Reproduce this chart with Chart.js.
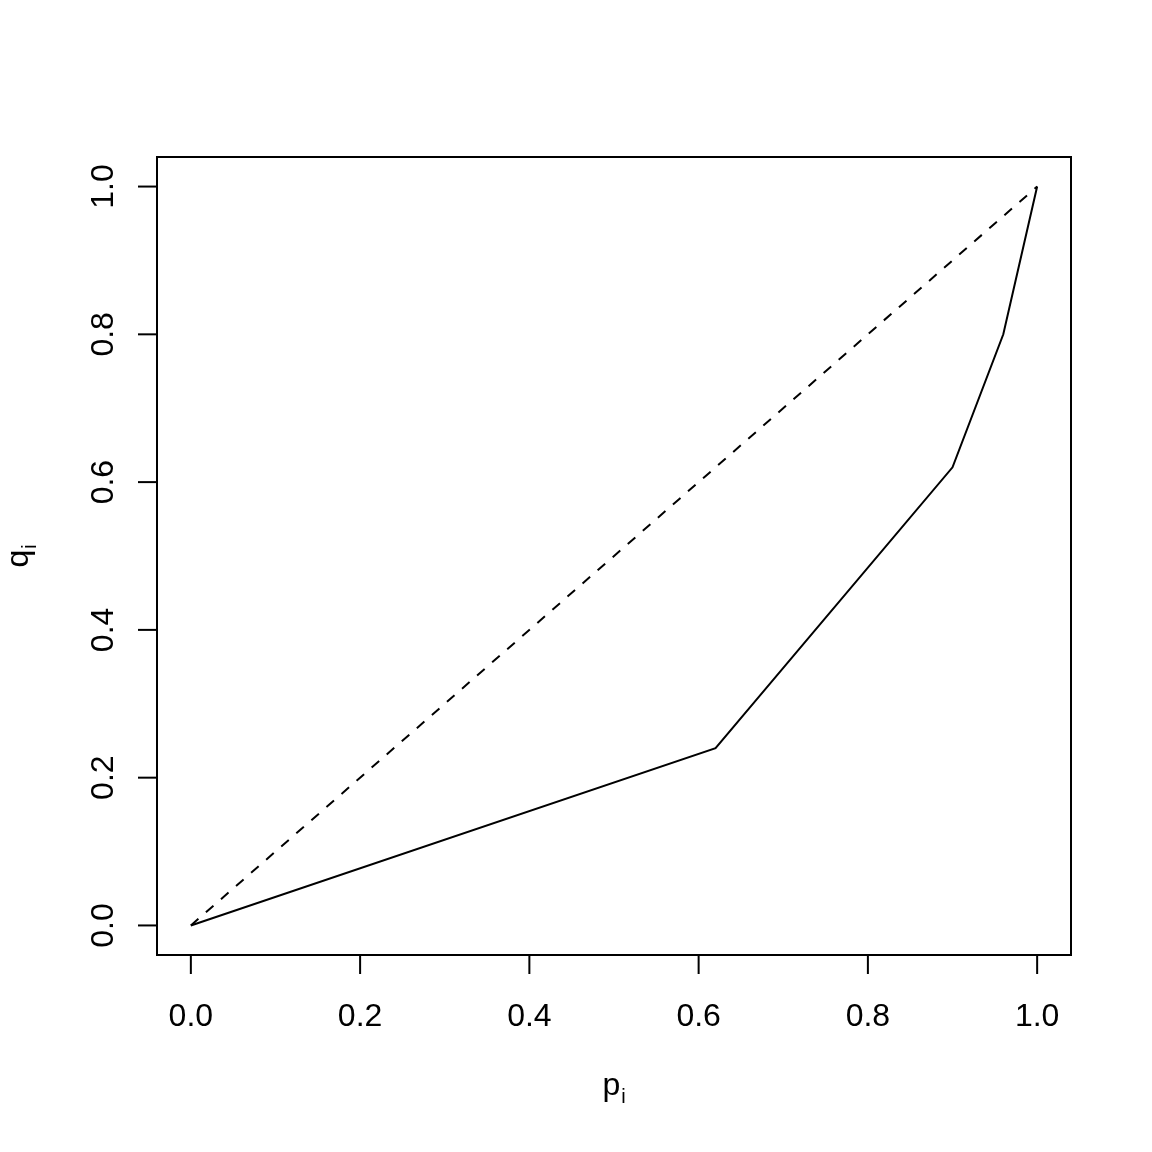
<!DOCTYPE html>
<html lang="en">
<head>
  <meta charset="UTF-8">
  <title>Lorenz curve</title>
  <script src="https://cdn.jsdelivr.net/npm/chart.js"></script>
  <style>
    body { margin: 0; background: #ffffff; }
    #wrap { width: 1152px; height: 1152px; }
  </style>
</head>
<body>
  <div id="wrap"><canvas id="myChart" width="1152" height="1152"></canvas></div>

  <script>
    // data
    const pValues = [0, 0.62, 0.90, 0.96, 1.0];
    const qValues = [0, 0.24, 0.62, 0.80, 1.0];
    const diagX = [0, 1];
    const diagY = [0, 1];
    const xTickValues = [0, 0.2, 0.4, 0.6, 0.8, 1.0];
    const yTickValues = [0, 0.2, 0.4, 0.6, 0.8, 1.0];
    const xTickLabels = ['0.0', '0.2', '0.4', '0.6', '0.8', '1.0'];
    const yTickLabels = ['0.0', '0.2', '0.4', '0.6', '0.8', '1.0'];

    const FONT = '"Liberation Sans", Arial, sans-serif';

    const toPoints = (xs, ys) => xs.map((x, i) => ({ x: x, y: ys[i] }));

    // draws the R style frame, ticks, labels and axis titles
    const rAxes = {
      id: 'rAxes',
      afterDraw(chart) {
        const ctx = chart.ctx;
        const a = chart.chartArea;
        const xs = chart.scales.x;
        const ys = chart.scales.y;
        ctx.save();
        ctx.strokeStyle = '#000';
        ctx.fillStyle = '#000';
        ctx.lineWidth = 2;
        ctx.setLineDash([]);
        ctx.strokeRect(a.left, a.top, a.right - a.left, a.bottom - a.top);

        ctx.font = '32px ' + FONT;
        ctx.textAlign = 'center';
        ctx.textBaseline = 'alphabetic';

        // x axis
        xTickValues.forEach((v, i) => {
          const px = xs.getPixelForValue(v);
          ctx.beginPath();
          ctx.moveTo(px, a.bottom);
          ctx.lineTo(px, a.bottom + 19);
          ctx.stroke();
          ctx.fillText(xTickLabels[i], px, 1026);
        });

        // y axis
        yTickValues.forEach((v, i) => {
          const py = ys.getPixelForValue(v);
          ctx.beginPath();
          ctx.moveTo(a.left, py);
          ctx.lineTo(a.left - 19, py);
          ctx.stroke();
          ctx.save();
          ctx.translate(113, py);
          ctx.rotate(-Math.PI / 2);
          ctx.fillText(yTickLabels[i], 0, 0);
          ctx.restore();
        });

        // axis titles with subscript
        const cx = (a.left + a.right) / 2;
        const cy = (a.top + a.bottom) / 2;
        ctx.textAlign = 'left';
        ctx.font = '32px ' + FONT;
        const pw = ctx.measureText('p').width;
        ctx.font = '20px ' + FONT;
        const iw = ctx.measureText('i').width;
        let x0 = cx - (pw + iw + 1) / 2;
        ctx.font = '32px ' + FONT;
        ctx.fillText('p', x0, 1095);
        ctx.font = '20px ' + FONT;
        ctx.fillText('i', x0 + pw + 1, 1103);

        ctx.save();
        ctx.translate(28, cy);
        ctx.rotate(-Math.PI / 2);
        ctx.font = '32px ' + FONT;
        const qw = ctx.measureText('q').width;
        x0 = -(qw + iw + 1) / 2;
        ctx.fillText('q', x0, 0);
        ctx.font = '20px ' + FONT;
        ctx.fillText('i', x0 + qw + 1, 8);
        ctx.restore();

        ctx.restore();
      }
    };

    const myChart = new Chart(document.getElementById('myChart').getContext('2d'), {
      type: 'scatter',
      data: {
        datasets: [{
          label: 'curve',
          data: toPoints(pValues, qValues),
          showLine: true,
          borderColor: '#000',
          borderWidth: 2,
          pointRadius: 0,
          tension: 0
        }, {
          label: 'equality',
          data: toPoints(diagX, diagY),
          showLine: true,
          borderColor: '#000',
          borderWidth: 2,
          borderDash: [10, 10],
          pointRadius: 0,
          tension: 0
        }]
      },
      options: {
        responsive: false,
        animation: false,
        layout: { padding: { left: 157, top: 157, right: 81, bottom: 197 } },
        plugins: { legend: { display: false }, tooltip: { enabled: false } },
        scales: {
          x: { type: 'linear', min: -0.04, max: 1.04, display: false },
          y: { type: 'linear', min: -0.04, max: 1.04, display: false }
        }
      },
      plugins: [rAxes]
    });
  </script>
</body>
</html>
